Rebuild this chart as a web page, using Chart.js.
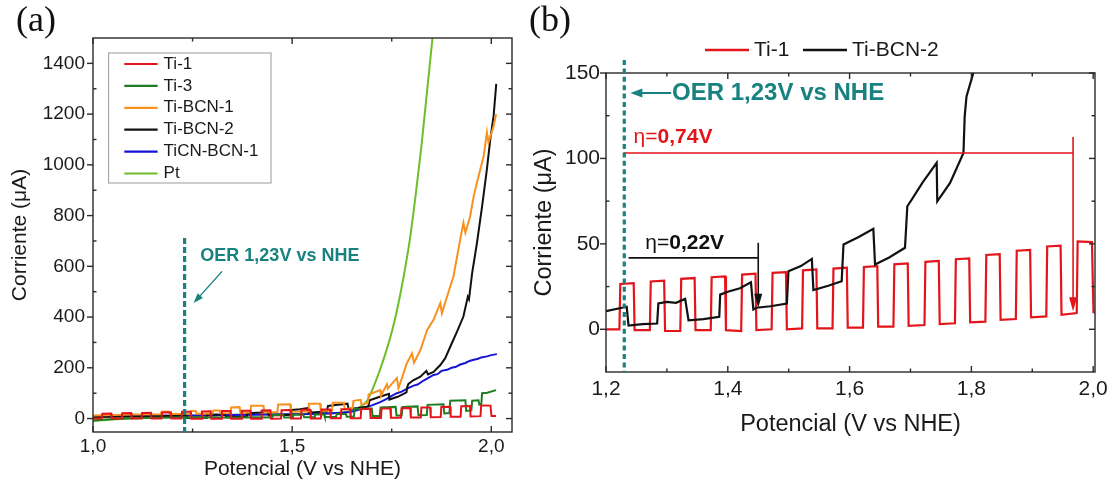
<!DOCTYPE html>
<html lang="es">
<head>
<meta charset="UTF-8">
<title>Corriente vs potencial</title>
<script src="https://cdn.jsdelivr.net/npm/chart.js@4.4.1/dist/chart.umd.min.js"></script>
<style>
  body { margin: 0; width: 1116px; height: 486px; background: #fff; position: relative; overflow: hidden; }
  canvas { position: absolute; top: 0; }
  #chartA { left: 0; }
  #chartB { left: 520px; }
</style>
</head>
<body>
<canvas id="chartA" width="520" height="486"></canvas>
<canvas id="chartB" width="596" height="486"></canvas>
<script>
// potential in V vs NHE, current in µA

// Ti-1 (chopped light, square wave)
const ti1V = [1.000,
  1.022,1.0235,1.0455,1.047, 1.072,1.0735,1.0955,1.097, 1.122,1.1235,1.1455,1.147, 1.172,1.1735,1.1955,1.197,
  1.222,1.2235,1.2455,1.247, 1.272,1.2735,1.2955,1.297, 1.322,1.3235,1.3455,1.347, 1.372,1.3735,1.3955,1.397,
  1.422,1.4235,1.4455,1.447, 1.472,1.4735,1.4955,1.497, 1.522,1.5235,1.5455,1.547, 1.572,1.5735,1.5955,1.597,
  1.622,1.6235,1.6455,1.647, 1.672,1.6735,1.6955,1.697, 1.723,1.7245,1.7465,1.748, 1.773,1.7745,1.7965,1.798,
  1.823,1.8245,1.8465,1.848, 1.873,1.8745,1.8965,1.898, 1.923,1.9245,1.9465,1.948, 1.973,1.9745,1.998,2.0005,
  2.012];
const ti1I = [0.5,
  0.5,19,19.5,0, 0.5,21,21.5,0.5, 0,22,22.5,0, 0.5,24,24.5,0,
  0,26.5,27,-0.5, -0.5,28,28.5,-1, -1,29.5,30,-0.5, -0.5,30.5,31,-0.5,
  -1,32,32.5,-0.5, 0,33,33.5,0, 0.5,34.5,35,0.5, 0.5,35.5,36,1,
  1,36.5,37,1.5, 1.5,38,38.5,2, 2.5,39.5,40,3, 3.5,41,41.5,4,
  4.5,43.5,44,5.5, 6,46,46.5,7, 7.5,48.5,49,8.5, 9.5,51.5,51,10,
  10];

// Ti-3
const ti3V = [1.000,1.030,1.080,1.150,1.250,1.300,1.350,1.400,1.450,1.452,1.478,1.480,1.500,1.502,1.528,1.530,1.555,1.557,1.580,1.582,1.610,1.612,1.635,1.637,1.655,1.657,1.700,1.702,1.720,1.722,1.760,1.762,1.775,1.777,1.815,1.817,1.838,1.840,1.880,1.882,1.895,1.897,1.935,1.937,1.950,1.952,1.968,1.970,1.975,1.977,1.990,2.012];
const ti3I = [-8,-4,0,3,4,5,3,5,4,14,14,4,4,15,15,5,5,16,16,6,6,18,18,7,8,38,40,10,10,44,46,12,12,46,48,13,14,54,56,20,22,70,72,30,32,70,72,55,58,100,102,112];

// Ti-BCN-1
const bcn1V = [1.000,1.050,1.100,1.170,1.172,1.190,1.192,1.245,1.247,1.258,1.260,1.300,1.302,1.318,1.320,1.345,1.347,1.368,1.370,1.395,1.397,1.428,1.430,1.463,1.465,1.495,1.497,1.540,1.542,1.570,1.572,1.600,1.602,1.630,1.632,1.652,1.654,1.672,1.674,1.690,1.692,1.721,1.723,1.738,1.740,1.763,1.767,1.788,1.801,1.806,1.822,1.839,1.855,1.872,1.876,1.889,1.905,1.922,1.930,1.935,1.947,1.956,1.964,1.981,1.989,1.993,2.006,2.012];
const bcn1I = [12,14,16,17,27,28,18,19,30,30,19,20,32,32,21,22,44,45,23,24,50,50,25,26,55,56,27,28,58,58,30,32,62,62,36,42,70,74,55,62,95,112,90,135,118,160,119,218,257,220,270,349,389,455,415,481,560,706,772,732,798,877,930,1035,1128,1088,1154,1200];

// Ti-BCN-2
const bcn2V = [1.000,1.050,1.100,1.150,1.200,1.234,1.237,1.260,1.284,1.286,1.300,1.315,1.330,1.3355,1.360,1.386,1.3875,1.400,1.420,1.438,1.442,1.447,1.470,1.497,1.4996,1.520,1.538,1.5406,1.565,1.587,1.590,1.615,1.639,1.6418,1.665,1.691,1.6948,1.702,1.720,1.743,1.744,1.765,1.787,1.789,1.792,1.804,1.822,1.837,1.841,1.855,1.872,1.884,1.897,1.914,1.930,1.941,1.944,1.952,1.964,1.977,1.989,1.9975,2.0058,2.0125];
const bcn2I = [6,7,8,9,10.6,13.2,2.2,3,3.4,15.1,16,15.5,17.8,5.3,6,7.3,20.3,22,24,27.5,11.6,12.6,13.5,15.1,34,37,41.2,22.9,25.5,28.1,49.6,54,58.8,37.9,42,47.7,72,75.9,86,97.4,74.9,85.7,103.2,124.6,136.3,151,165,188,174,184,211,237,283,343,402,480,470,574,692,837,983,1101,1193,1319];

// TiCN-BCN-1
const ticnV = [1.000,1.050,1.100,1.150,1.200,1.250,1.300,1.350,1.400,1.450,1.500,1.550,1.600,1.625,1.646,1.660,1.675,1.688,1.700,1.710,1.721,1.735,1.750,1.763,1.775,1.790,1.805,1.815,1.830,1.840,1.855,1.865,1.875,1.889,1.900,1.910,1.922,1.935,1.945,1.956,1.965,1.975,1.989,2.000,2.014];
const ticnI = [9,10,10,11,12,12,13,14,15,16,17,18,21,23,26,32,38,46,52,58,65,76,89,100,106,119,130,134,150,158,172,175,188,192,200,203,213,219,227,232,235,241,245,250,254];

// Pt
const ptV = [1.000,1.050,1.100,1.150,1.200,1.250,1.300,1.350,1.400,1.450,1.500,1.550,1.600,1.630,1.650,1.670,1.688,1.705,1.720,1.735,1.750,1.765,1.780,1.795,1.810,1.825,1.840,1.853,1.862];
const ptI = [-10,-4,1,5,8,11,13,15,16,17,18,19,21,25,30,45,70,128,190,260,340,440,560,700,880,1080,1310,1510,1660];

// axis ticks
const xMajorA = [1.0, 1.5, 2.0];
const xMinorA = [1.25, 1.75];
const yMajorA = [0, 200, 400, 600, 800, 1000, 1200, 1400];
const yMinorA = [100, 300, 500, 700, 900, 1100, 1300];
const xMajorB = [1.2, 1.4, 1.6, 1.8, 2.0];
const xMinorB = [1.3, 1.5, 1.7, 1.9];
const yMajorB = [0, 50, 100, 150];
const yMinorB = [25, 75, 125];

// annotations
const oerV = 1.23;
const oerText = 'OER 1,23V vs NHE';
const etaRed = { text: '0,74V', from: 1.229, to: 1.967, level: 103.2, top: 112.6, tip: 10.6, labelV: 1.2453, labelI: 112.6 };
const etaBlack = { text: '0,22V', from: 1.237, to: 1.450, level: 41.8, top: 50.6, tip: 12.6, labelV: 1.2645, labelI: 50.6 };

const teal = '#17827f';
const FONT = "'Liberation Sans', Arial, sans-serif";
Chart.defaults.font.family = FONT;
Chart.defaults.color = '#1a1a1a';

const pts = (vs, is) => vs.map((v, i) => ({ x: v, y: is[i] }));
const comma = v => Number(v).toFixed(1).replace('.', ',');

function seg(ctx, x1, y1, x2, y2) {
  ctx.beginPath(); ctx.moveTo(x1, y1); ctx.lineTo(x2, y2); ctx.stroke();
}
function arrow(ctx, x1, y1, x2, y2, head, width) {
  const a = Math.atan2(y2 - y1, x2 - x1), c = Math.cos(a), s = Math.sin(a);
  seg(ctx, x1, y1, x2 - c * head * 0.6, y2 - s * head * 0.6);
  ctx.beginPath();
  ctx.moveTo(x2, y2);
  ctx.lineTo(x2 - head * c + width / 2 * s, y2 - head * s - width / 2 * c);
  ctx.lineTo(x2 - head * c - width / 2 * s, y2 - head * s + width / 2 * c);
  ctx.closePath(); ctx.fill();
}

// box round the plot, ticks on all four sides
const frame = {
  id: 'frame',
  afterDatasetsDraw(chart, args, o) {
    const { ctx, chartArea: a } = chart;
    const sx = chart.scales.x, sy = chart.scales.y;
    ctx.save();
    ctx.strokeStyle = '#2a2a2a';
    ctx.lineWidth = 1.4;
    ctx.strokeRect(a.left, a.top, a.width, a.height);
    o.xMajor.forEach(v => { const p = sx.getPixelForValue(v); seg(ctx, p, a.bottom, p, a.bottom - 6); seg(ctx, p, a.top, p, a.top + 6); });
    o.xMinor.forEach(v => { const p = sx.getPixelForValue(v); seg(ctx, p, a.bottom, p, a.bottom - 3.5); seg(ctx, p, a.top, p, a.top + 3.5); });
    o.yMajor.forEach(v => { const p = sy.getPixelForValue(v); seg(ctx, a.left - 6, p, a.left, p); seg(ctx, a.right - 6, p, a.right, p); });
    o.yMinor.forEach(v => { const p = sy.getPixelForValue(v); seg(ctx, a.left, p, a.left + 3.5, p); seg(ctx, a.right - 3.5, p, a.right, p); });
    ctx.restore();
  }
};

function axes(o) {
  return {
    x: {
      type: 'linear', min: o.xMin, max: o.xMax,
      grid: { display: false, drawTicks: false }, border: { display: false },
      afterBuildTicks: s => { s.ticks = o.xTicks.map(v => ({ value: v })); },
      ticks: { callback: comma, padding: o.xPad, font: { size: o.tickSize }, maxRotation: 0, autoSkip: false },
      title: { display: true, text: 'Potencial (V vs NHE)', font: { size: o.titleSize }, padding: { top: 0, bottom: o.xTitlePad } },
      afterFit: s => { s.height = o.xHeight; }
    },
    y: {
      type: 'linear', min: o.yMin, max: o.yMax,
      grid: { display: false, drawTicks: false }, border: { display: false },
      afterBuildTicks: s => { s.ticks = o.yTicks.map(v => ({ value: v })); },
      ticks: { callback: v => String(v), padding: o.yPad, font: { size: o.tickSize }, autoSkip: false },
      title: { display: true, text: 'Corriente (\u03BCA)', font: { size: o.titleSize }, padding: { top: o.yTitlePad, bottom: 0 } },
      afterFit: s => { s.width = o.yWidth; }
    }
  };
}

function line(label, color, data, extra) {
  return Object.assign({ label, data, borderColor: color, backgroundColor: color, borderWidth: 2, pointRadius: 0, tension: 0, fill: false }, extra || {});
}

// ---------- panel (a) ----------
const seriesA = [
  line('Ti-1', '#e3151b', pts(ti1V, ti1I)),
  line('Ti-3', '#1e7d22', pts(ti3V, ti3I)),
  line('Ti-BCN-1', '#f7921e', pts(bcn1V, bcn1I)),
  line('Ti-BCN-2', '#111111', pts(bcn2V, bcn2I)),
  line('TiCN-BCN-1', '#1414d6', pts(ticnV, ticnI)),
  line('Pt', '#6dbe2b', pts(ptV, ptI), { cubicInterpolationMode: 'monotone' })
];

const decorA = {
  id: 'decorA',
  afterDatasetsDraw(chart) {
    const { ctx, chartArea: a } = chart;
    const sx = chart.scales.x, sy = chart.scales.y;
    ctx.save();
    // OER reference line
    const ox = sx.getPixelForValue(oerV);
    ctx.strokeStyle = teal; ctx.fillStyle = teal;
    ctx.lineWidth = 3.2; ctx.setLineDash([6, 3]);
    seg(ctx, ox, sy.getPixelForValue(712), ox, a.bottom);
    ctx.setLineDash([]);
    ctx.font = 'bold 18px ' + FONT;
    ctx.textBaseline = 'middle'; ctx.textAlign = 'left';
    ctx.fillText(oerText, sx.getPixelForValue(1.2695), sy.getPixelForValue(640));
    ctx.lineWidth = 1.4;
    arrow(ctx, sx.getPixelForValue(1.324), sy.getPixelForValue(580), sx.getPixelForValue(1.2526), sy.getPixelForValue(455), 10, 7);

    // legend
    const lx = a.left + 15.6, ly = a.top + 15;
    ctx.strokeStyle = '#9a9a9a'; ctx.lineWidth = 1;
    ctx.strokeRect(lx, ly, 162.4, 130);
    ctx.font = '17px ' + FONT; ctx.fillStyle = '#1a1a1a';
    chart.data.datasets.forEach((d, i) => {
      const yy = ly + 11 + i * 21.9;
      ctx.strokeStyle = d.borderColor; ctx.lineWidth = 2.2;
      seg(ctx, lx + 15.7, yy, lx + 49, yy);
      ctx.fillText(d.label, lx + 55, yy);
    });

    // panel letter
    ctx.font = '36px "Liberation Serif", "Times New Roman", serif';
    ctx.fillStyle = '#111';
    ctx.fillText('(a)', 16, 22);
    ctx.restore();
  }
};

new Chart(document.getElementById('chartA'), {
  type: 'line',
  data: { datasets: seriesA },
  options: {
    responsive: false, animation: false, events: [],
    layout: { padding: { left: 0, top: 38, right: 8, bottom: 0 } },
    plugins: {
      legend: { display: false }, tooltip: { enabled: false },
      frame: { xMajor: xMajorA, xMinor: xMinorA, yMajor: yMajorA, yMinor: yMinorA }
    },
    scales: axes({
      xMin: 1.0, xMax: 2.052, yMin: -53, yMax: 1500, xTicks: xMajorA, yTicks: yMajorA,
      tickSize: 19, titleSize: 21, xPad: 3, yPad: 8, xTitlePad: 4.4, yTitlePad: 7.4, xHeight: 54, yWidth: 93
    })
  },
  plugins: [frame, decorA]
});

// ---------- panel (b) ----------
const seriesB = [
  line('Ti-BCN-2', '#111111', pts(bcn2V, bcn2I), { borderWidth: 2.2 }),
  line('Ti-1', '#e3151b', pts(ti1V, ti1I), { borderWidth: 2.2 })
];

function etaMark(ctx, sx, sy, m, color) {
  const x1 = sx.getPixelForValue(m.from), x2 = sx.getPixelForValue(m.to);
  const yl = sy.getPixelForValue(m.level);
  ctx.strokeStyle = color; ctx.fillStyle = color; ctx.lineWidth = 1.6;
  seg(ctx, x1, yl, x2, yl);
  arrow(ctx, x2, sy.getPixelForValue(m.top), x2, sy.getPixelForValue(m.tip), 14, 8);
  const lx = sx.getPixelForValue(m.labelV), ly = sy.getPixelForValue(m.labelI);
  ctx.textAlign = 'left'; ctx.textBaseline = 'middle';
  ctx.font = '21px ' + FONT;
  ctx.fillText('\u03B7=', lx, ly);
  const w = ctx.measureText('\u03B7=').width;
  ctx.font = 'bold 21px ' + FONT;
  ctx.fillText(m.text, lx + w, ly);
}

const decorB = {
  id: 'decorB',
  afterDatasetsDraw(chart) {
    const { ctx, chartArea: a } = chart;
    const sx = chart.scales.x, sy = chart.scales.y;
    ctx.save();
    etaMark(ctx, sx, sy, etaRed, '#e3151b');
    etaMark(ctx, sx, sy, etaBlack, '#111111');

    // OER reference line
    const ox = sx.getPixelForValue(oerV);
    ctx.strokeStyle = teal; ctx.fillStyle = teal;
    ctx.lineWidth = 3.2; ctx.setLineDash([5, 3.4]);
    seg(ctx, ox, a.top - 13, ox, a.bottom);
    ctx.setLineDash([]);
    const ty = sy.getPixelForValue(138.3);
    ctx.lineWidth = 2;
    arrow(ctx, sx.getPixelForValue(1.307), ty, sx.getPixelForValue(1.240), ty, 12, 9);
    ctx.font = 'bold 24px ' + FONT;
    ctx.textAlign = 'left'; ctx.textBaseline = 'middle';
    ctx.fillText(oerText, sx.getPixelForValue(1.3085), ty);

    // legend above the plot
    ctx.font = '21px ' + FONT; ctx.fillStyle = '#1a1a1a';
    const entries = [['Ti-1', '#e3151b', 185], ['Ti-BCN-2', '#111111', 283]];
    entries.forEach(([t, c, x]) => {
      ctx.strokeStyle = c; ctx.lineWidth = 2.4;
      seg(ctx, x, 50, x + 44, 50);
      ctx.fillText(t, x + 49, 50);
    });

    ctx.font = '36px "Liberation Serif", "Times New Roman", serif';
    ctx.fillStyle = '#111';
    ctx.fillText('(b)', 9, 22);
    ctx.restore();
  }
};

new Chart(document.getElementById('chartB'), {
  type: 'line',
  data: { datasets: seriesB },
  options: {
    responsive: false, animation: false, events: [],
    layout: { padding: { left: 0, top: 73, right: 21, bottom: 0 } },
    plugins: {
      legend: { display: false }, tooltip: { enabled: false },
      frame: { xMajor: xMajorB, xMinor: xMinorB, yMajor: yMajorB, yMinor: yMinorB }
    },
    scales: axes({
      xMin: 1.2, xMax: 2.003, yMin: -25, yMax: 150, xTicks: xMajorB, yTicks: yMajorB,
      tickSize: 21, titleSize: 23.5, xPad: 5, yPad: 6, xTitlePad: 47, yTitlePad: 10, xHeight: 114, yWidth: 86
    })
  },
  plugins: [frame, decorB]
});
</script>
</body>
</html>
